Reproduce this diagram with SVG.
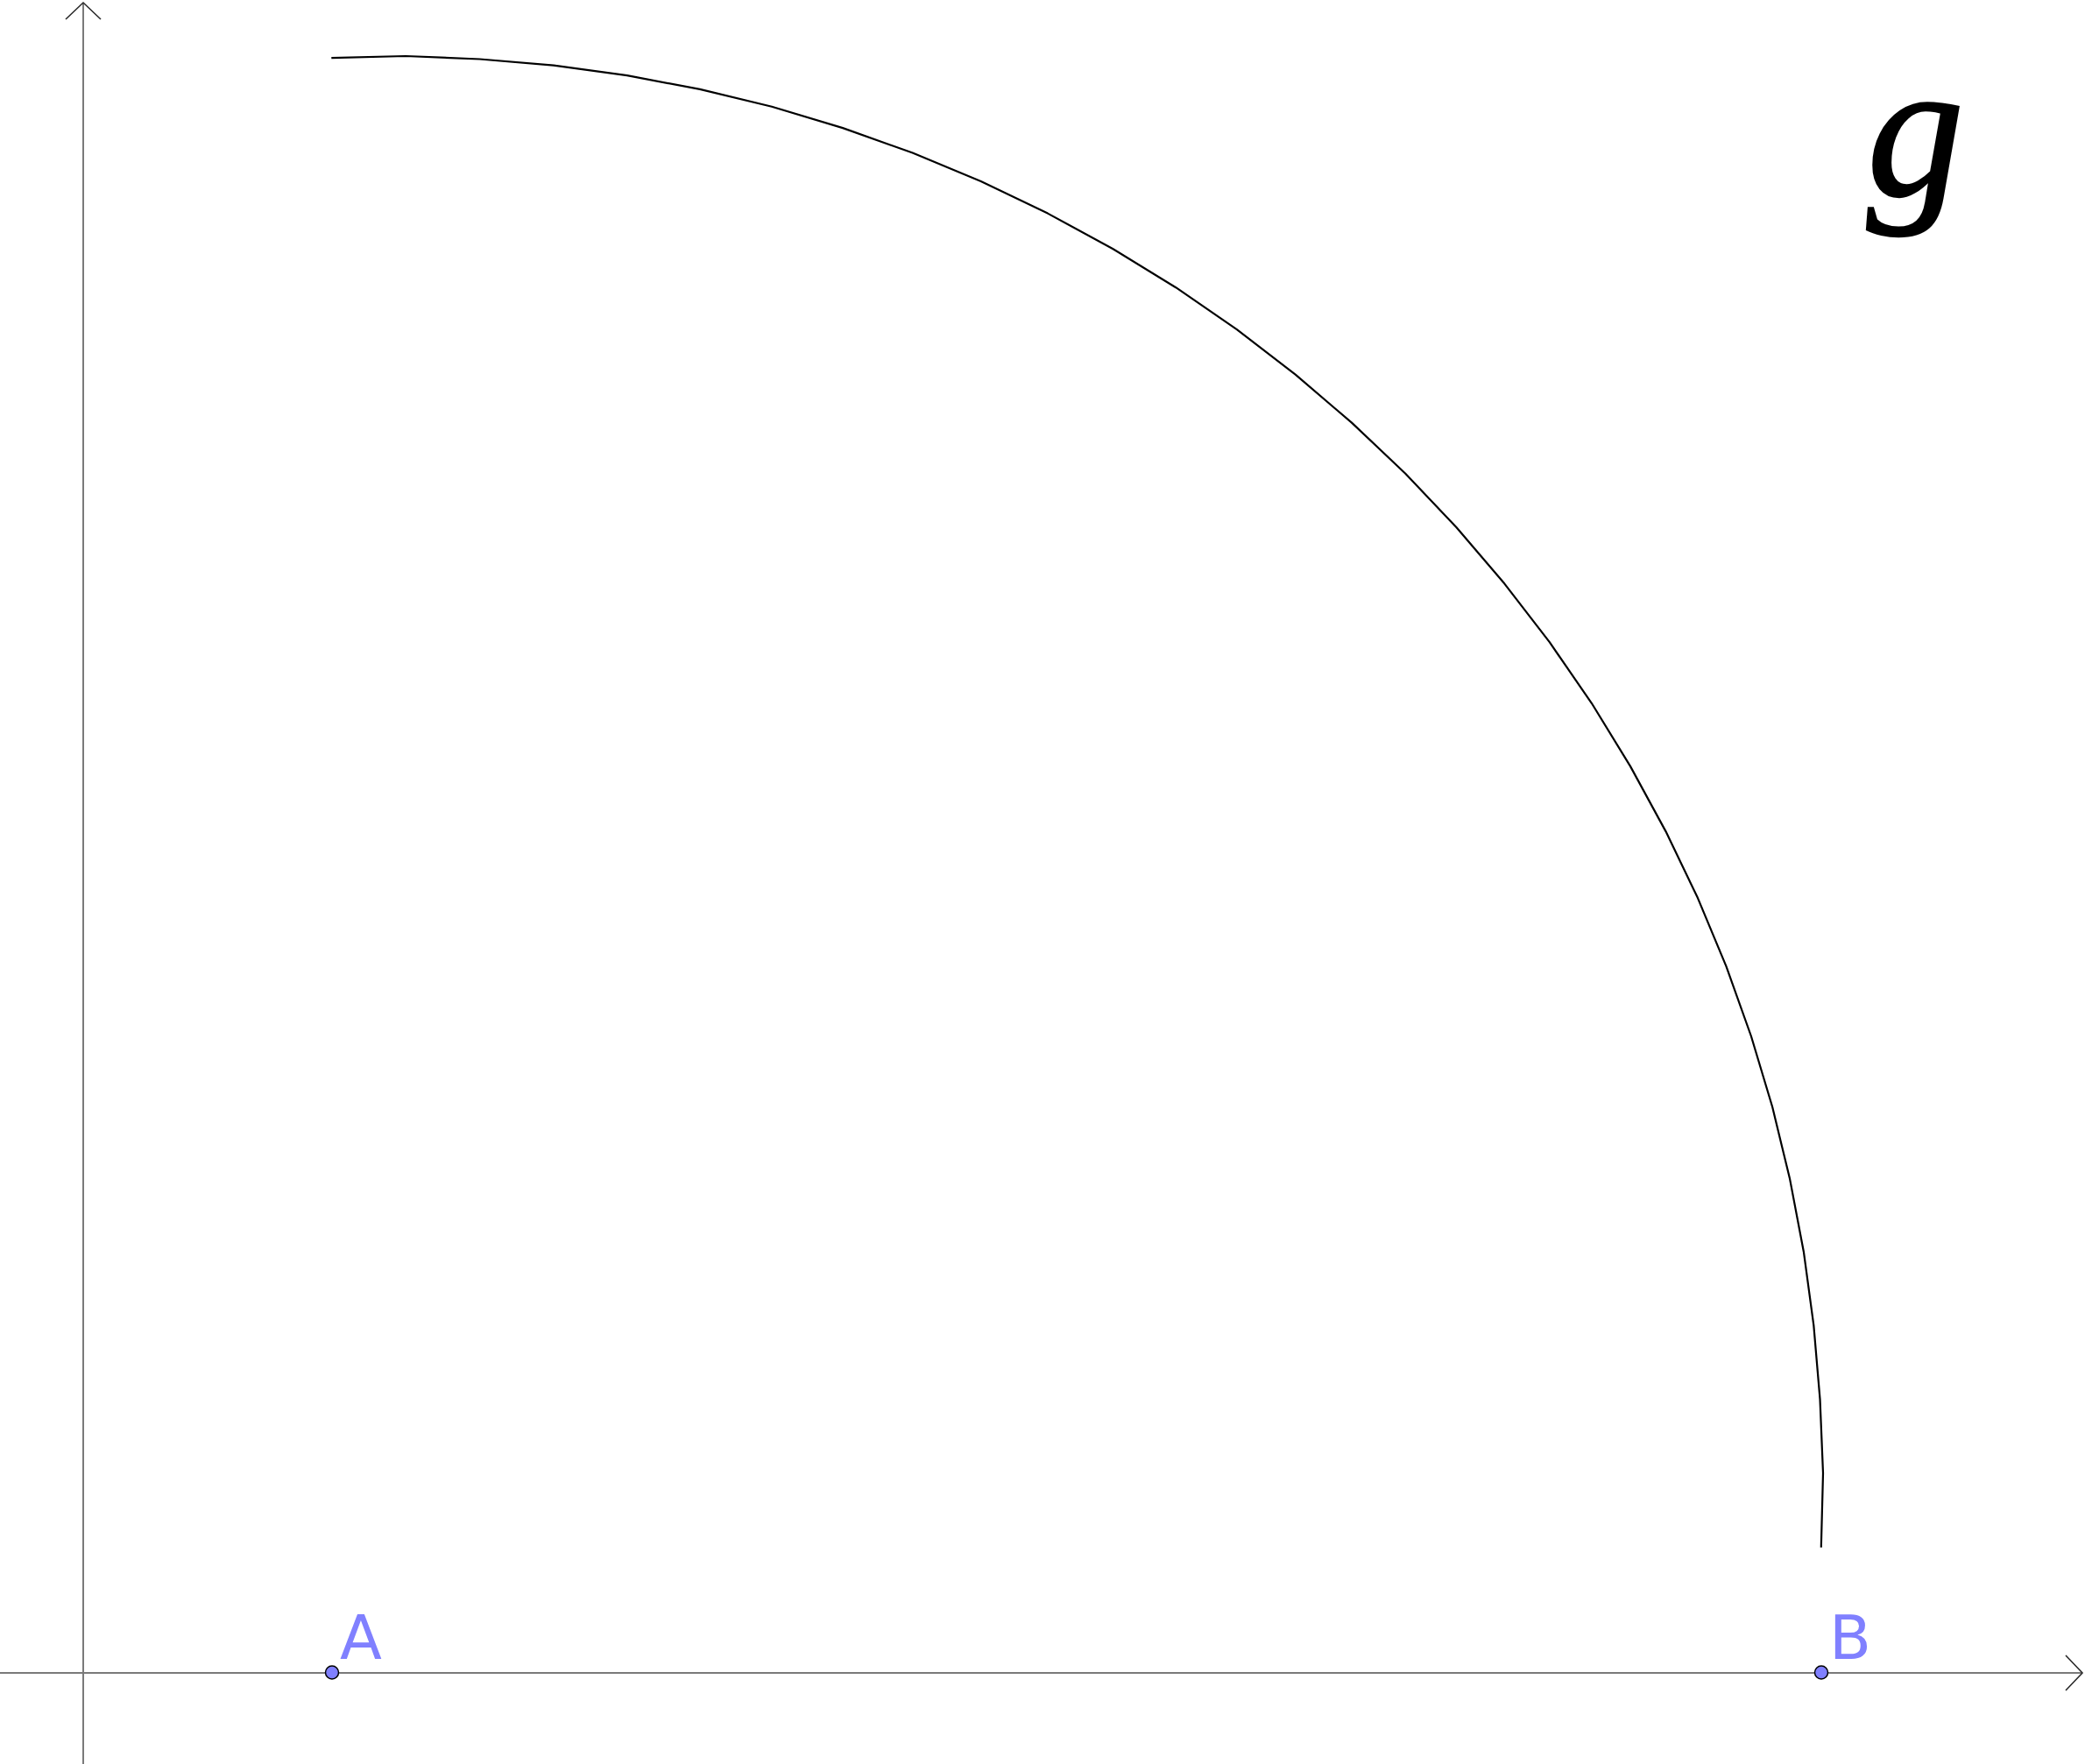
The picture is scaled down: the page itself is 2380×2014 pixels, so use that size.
<svg xmlns="http://www.w3.org/2000/svg" width="2380" height="2014" viewBox="0 0 2380 2014">
<style>
.axis{stroke:#7a7a7a;stroke-width:2;fill:none}
.head{stroke:#2a2a2a;stroke-width:1.6;fill:none;stroke-linejoin:miter}
.curve{stroke:#000;stroke-width:2.2;fill:none;stroke-linejoin:round}
.pt{fill:#8080ff;stroke:#000;stroke-width:1.5}
.lbl{fill:#8080ff;font-family:"DejaVu Sans",sans-serif;font-size:70px}
</style>
<rect width="2380" height="2014" fill="#fff"/>
<g id="axes">
<line class="axis" x1="95" y1="3" x2="95" y2="2014"/>
<line class="axis" x1="0" y1="1910" x2="2377" y2="1910"/>
<polyline class="head" points="75,22 95,3 115,22"/>
<polyline class="head" points="2358,1890 2377,1910 2358,1930"/>
</g>
<g id="curve-g">
<polyline class="curve" points="378.3,66.2 463,64 547.6,67.5 631.9,74.7 715.8,86.1 798.9,101.9 881,121.8 962,146.1 1041.7,174.5 1119.7,207 1195.9,243.6 1270.1,284 1342.2,328.2 1411.8,376.2 1478.7,427.7 1543,482.6 1604.3,540.7 1662.4,602 1717.3,666.3 1768.8,733.2 1816.8,802.8 1861,874.9 1901.4,949.1 1938,1025.3 1970.5,1103.3 1998.9,1183 2023.2,1264 2043.1,1346.1 2058.9,1429.2 2070.3,1513.1 2077.5,1597.4 2081,1682 2078.8,1766.7"/>
<text x="2131" y="223" font-family="Liberation Serif, serif" font-style="italic" font-size="222" fill="#000" stroke="#000" stroke-width="2.5">g</text>
</g>
<g id="point-A">
<circle class="pt" cx="379" cy="1909.5" r="7.5"/>
<text class="lbl" x="388" y="1894">A</text>
</g>
<g id="point-B">
<circle class="pt" cx="2079" cy="1909.5" r="7.5"/>
<text class="lbl" x="2088" y="1894">B</text>
</g>
</svg>
